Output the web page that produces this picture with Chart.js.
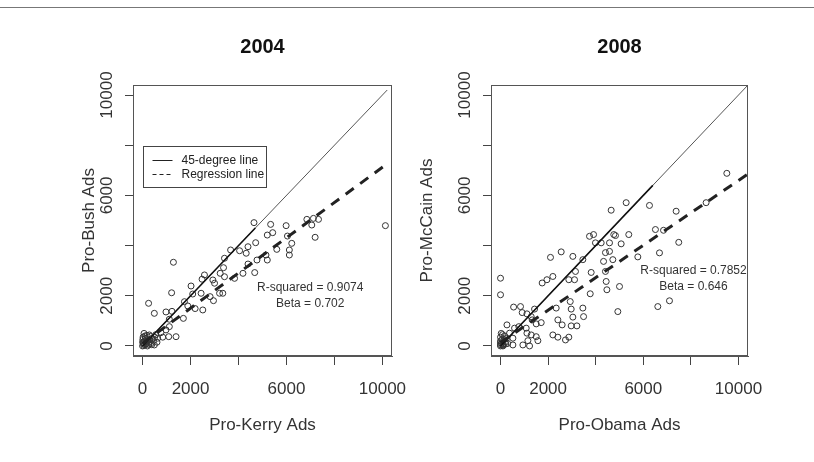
<!DOCTYPE html>
<html><head><meta charset="utf-8">
<script src="https://cdn.jsdelivr.net/npm/chart.js@4.4.1/dist/chart.umd.min.js"></script>
<style>
html,body{margin:0;padding:0;background:#fff;width:814px;height:462px;overflow:hidden;}
#wrap{position:relative;width:814px;height:462px;}
canvas{position:absolute;top:0;}
#frame{position:absolute;left:0;top:7px;width:814px;height:0;border-top:1px solid #777;}
</style></head><body>
<div id="wrap">
<div id="frame"></div>
<canvas id="c1" width="407" height="462" style="left:0"></canvas>
<canvas id="c2" width="407" height="462" style="left:407px"></canvas>
</div>
<script>
// ---------- data ----------
const tickValues = [0, 2000, 4000, 6000, 8000, 10000];
const labeledTicks = [0, 2000, 6000, 10000];

const kerryAds = [0,50,100,30,150,200,80,250,120,300,20,180,350,400,60,280,490,450,220,0,100,330,550,600,40,160,380,10,260,500,
  1285,250,490,1210,975,1225,1115,1395,1700,1115,975,1090,840,765,630,
  2020,1745,1885,2190,2510,2440,2090,2580,2480,2930,3000,2815,2955,3210,3345,3235,3415,3375,3415,3670,4045,4320,4395,4715,3835,4185,4395,4675,4770,
  4645,5340,5425,5200,5145,5200,5595,5985,6040,6220,6120,6120,6850,7125,7335,7055,7195,10125];
const bushAds = [0,20,50,120,80,0,200,150,300,250,350,420,100,300,500,440,40,200,250,150,400,380,450,150,80,180,50,260,60,350,
  3335,1700,1300,2120,1355,1380,1065,370,1100,770,640,370,350,530,310,
  2390,1765,1595,1490,1435,2100,2070,2830,2660,2630,2500,1965,1805,2100,2100,2895,2760,3120,3495,3825,3795,3695,3955,4115,2695,2895,3265,2925,3425,
  4915,4845,4515,4420,3625,3425,3850,4795,4380,4090,3825,3625,5045,5085,5045,4820,4330,4795];

const obamaAds = [0,50,100,0,150,0,80,200,30,120,250,0,60,170,0,100,220,300,
  0,0,550,840,910,1110,1430,1290,1330,1710,1500,270,590,770,1080,1110,1290,1500,1570,1150,940,520,520,1220,380,2200,2410,2730,2870,2410,2590,2340,2970,3210,3040,2970,2930,3460,3490,3770,1750,1950,2200,2100,2550,3040,3150,2870,3110,3810,3740,3910,3990,4230,4410,4330,4440,4470,4830,4930,
  9510,4650,5280,6260,7380,8640,7490,6680,6510,6850,5390,4760,5070,5770,5000,6610,7100,4580,4580,4720,4410,3460];
const mccainAds = [0,100,30,200,250,350,450,150,500,60,300,120,250,400,50,0,80,100,
  2700,2040,1550,1570,1330,1280,1470,1170,1040,930,880,840,710,770,710,510,440,370,210,210,40,40,310,0,510,440,350,240,350,1040,840,1510,800,800,1150,1470,1770,1510,1170,2080,2510,2640,2770,3530,3750,3570,2970,2640,2640,2930,4370,4440,4110,4110,3720,3370,2570,2240,4400,1370,
  6880,5410,5710,5600,5370,5710,4130,3710,4640,4610,4440,4440,4070,3550,2370,1570,1800,4110,3770,3440,2970,3440];

const diag2004X = [0, 10200], diag2004Y = [0, 10200];
const diagBold2004X = [0, 4700], diagBold2004Y = [0, 4700];
const reg2004X = [0, 10125], reg2004Y = [100, 7210];
const diag2008X = [0, 10400], diag2008Y = [0, 10400];
const diagBold2008X = [0, 6400], diagBold2008Y = [0, 6400];
const reg2008X = [0, 10400], reg2008Y = [136, 6855];

const stats2004 = ['R-squared = 0.9074', 'Beta = 0.702'];
const stats2008 = ['R-squared = 0.7852', 'Beta = 0.646'];
const legendLabels = ['45-degree line', 'Regression line'];

// ---------- helpers ----------
const FAM = '"Liberation Sans", Arial, Helvetica, sans-serif';
const pts = (xs, ys) => xs.map((v, i) => ({x: v, y: ys[i]}));

const framePlugin = {
  id: 'frameAnnot',
  afterDatasetsDraw(chart, args, opts) {
    const {ctx, chartArea: ca, scales: {x, y}} = chart;
    ctx.save();
    ctx.strokeStyle = '#555'; ctx.lineWidth = 1;
    ctx.strokeRect(Math.round(ca.left) + 0.5, Math.round(ca.top) + 0.5, Math.round(ca.right - ca.left) - 1, Math.round(ca.bottom - ca.top) - 1);
    ctx.font = '12px ' + FAM; ctx.fillStyle = '#333';
    ctx.textAlign = 'center'; ctx.textBaseline = 'middle';
    (opts.texts || []).forEach(t => ctx.fillText(t.text, x.getPixelForValue(t.x), y.getPixelForValue(t.y)));
    if (opts.legend) {
      const L = Math.round(x.getPixelForValue(opts.legend.x)) + 0.5;
      const T = Math.round(y.getPixelForValue(opts.legend.y)) + 0.5;
      ctx.strokeStyle = '#444'; ctx.lineWidth = 1;
      ctx.strokeRect(L, T, 123, 41);
      ctx.strokeStyle = '#222';
      ctx.beginPath(); ctx.moveTo(L + 9, T + 14); ctx.lineTo(L + 29, T + 14); ctx.stroke();
      ctx.setLineDash([4, 3]);
      ctx.beginPath(); ctx.moveTo(L + 9, T + 28); ctx.lineTo(L + 29, T + 28); ctx.stroke();
      ctx.setLineDash([]);
      ctx.textAlign = 'left'; ctx.fillStyle = '#222';
      ctx.fillText(opts.legend.labels[0], L + 38, T + 14);
      ctx.fillText(opts.legend.labels[1], L + 38, T + 28);
    }
    ctx.restore();
  }
};

function makeChart(id, c) {
  const tickFont = {family: FAM, size: 17};
  return new Chart(document.getElementById(id), {
    type: 'scatter',
    data: {
      datasets: [
        {type: 'line', data: pts(c.diagX, c.diagY), borderColor: '#555', borderWidth: 1, pointRadius: 0, showLine: true, order: 3},
        {type: 'line', data: pts(c.boldX, c.boldY), borderColor: '#111', borderWidth: 1.6, pointRadius: 0, showLine: true, order: 2},
        {type: 'line', data: pts(c.regX, c.regY), borderColor: '#222', borderWidth: 3, borderDash: [10, 8], pointRadius: 0, showLine: true, order: 1},
        {type: 'scatter', data: pts(c.xs, c.ys), pointStyle: 'circle', pointRadius: 3, borderWidth: 1,
         borderColor: '#333', backgroundColor: 'rgba(0,0,0,0)', order: 4}
      ]
    },
    options: {
      responsive: false, animation: false, events: [],
      layout: {padding: {left: 0, right: c.padRight, top: 0, bottom: 26}},
      plugins: {
        legend: {display: false}, tooltip: {enabled: false}, title: {display: false},
        frameAnnot: {texts: c.texts, legend: c.legend}
      },
      scales: {
        x: {
          type: 'linear', position: 'bottom', min: -400, max: 10400,
          afterBuildTicks: s => { s.ticks = tickValues.map(v => ({value: v})); },
          afterFit: s => { s.height = 80; s.paddingLeft = 0; s.paddingRight = 0; },
          ticks: {callback: v => labeledTicks.includes(v) ? String(v) : '', font: tickFont, color: '#333',
                  padding: 14, maxRotation: 0, minRotation: 0, autoSkip: false},
          grid: {display: true, drawOnChartArea: false, drawTicks: true, tickLength: 9, color: '#444', lineWidth: 1},
          border: {display: true, color: '#555'},
          title: {display: true, text: c.xTitle, font: {family: FAM, size: 17}, color: '#333', padding: {top: 0, bottom: 0}}
        },
        xTop: {
          type: 'linear', axis: 'x', position: 'top', min: -400, max: 10400,
          afterFit: s => { s.height = 85; s.paddingLeft = 0; s.paddingRight = 0; },
          ticks: {display: false}, grid: {display: false}, border: {display: false},
          title: {display: true, text: c.title, font: {family: FAM, size: 20, weight: 'bold'}, color: '#111', padding: {top: 35.5, bottom: 0}}
        },
        y: {
          type: 'linear', position: 'left', min: -400, max: 10400,
          afterBuildTicks: s => { s.ticks = tickValues.map(v => ({value: v})); },
          afterFit: s => { s.width = c.yWidth; s.paddingTop = 0; s.paddingBottom = 0; },
          ticks: {callback: v => labeledTicks.includes(v) ? String(v) : '', font: tickFont, color: '#333',
                  padding: -6, minRotation: 90, maxRotation: 90, crossAlign: 'center', autoSkip: false},
          grid: {display: true, drawOnChartArea: false, drawTicks: true, tickLength: 8, color: '#444', lineWidth: 1},
          border: {display: true, color: '#555'},
          title: {display: true, text: c.yTitle, font: {family: FAM, size: 17}, color: '#333', padding: {top: c.yTitlePad, bottom: 0}}
        }
      }
    },
    plugins: [framePlugin]
  });
}

makeChart('c1', {
  title: '2004', xTitle: 'Pro-Kerry Ads', yTitle: 'Pro-Bush Ads',
  xs: kerryAds, ys: bushAds,
  diagX: diag2004X, diagY: diag2004Y, boldX: diagBold2004X, boldY: diagBold2004Y, regX: reg2004X, regY: reg2004Y,
  padRight: 15, yWidth: 133, yTitlePad: 79,
  texts: [{text: stats2004[0], x: 6990, y: 2310}, {text: stats2004[1], x: 6990, y: 1675}],
  legend: {x: 0, y: 7970, labels: legendLabels}
});
makeChart('c2', {
  title: '2008', xTitle: 'Pro-Obama Ads', yTitle: 'Pro-McCain Ads',
  xs: obamaAds, ys: mccainAds,
  diagX: diag2008X, diagY: diag2008Y, boldX: diagBold2008X, boldY: diagBold2008Y, regX: reg2008X, regY: reg2008Y,
  padRight: 66, yWidth: 84, yTitlePad: 10,
  texts: [{text: stats2008[0], x: 8110, y: 3010}, {text: stats2008[1], x: 8110, y: 2350}]
});
</script>
</body></html>
